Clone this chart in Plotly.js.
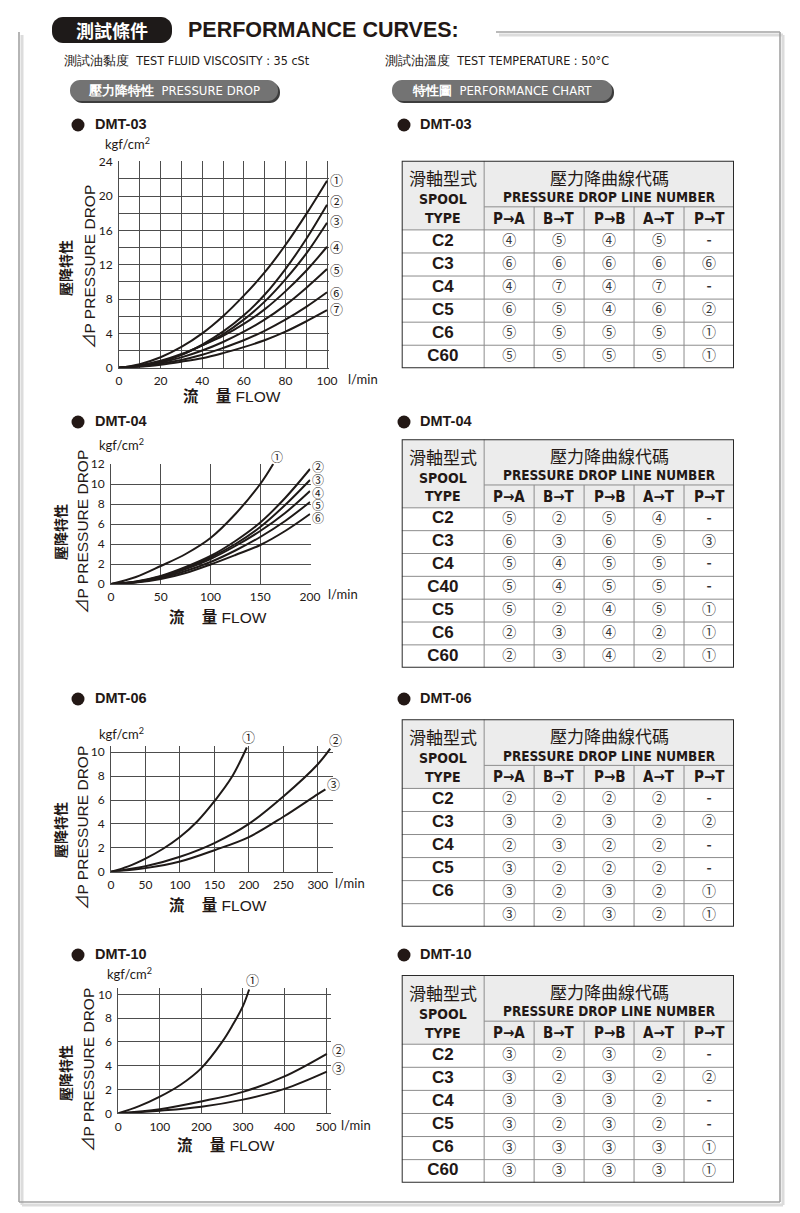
<!DOCTYPE html>
<html><head><meta charset="utf-8">
<script src="https://cdn.plot.ly/plotly-3.0.1.min.js"></script>
<style>html,body{margin:0;padding:0;background:#fff}#chart{width:800px;height:1213px}</style>
</head><body><div id="chart"></div>
<script>
// ---------------- DATA ----------------
// DMT-03 pressure drop curves (flow l/min, pressure kgf/cm2)
const dmt03Flows = [
  [0,10,20,30,40,50,60,70,80,90,100],
  [0,10,20,30,40,50,60,70,80,90,100],
  [0,10,20,30,40,50,60,70,80,90,100],
  [0,10,20,30,40,50,60,70,80,90,100],
  [0,10,20,30,40,50,60,70,80,90,100],
  [0,10,20,30,40,50,60,70,80,90,100],
  [0,10,20,30,40,50,60,70,80,90,100]
];
const dmt03Drops = [
  [0,0.42,1.22,2.42,4.0,6.0,8.4,11.1,14.3,17.9,21.8],
  [0,0.2,0.7,1.5,2.7,4.2,6.1,8.5,11.5,15.0,19.0],
  [0,0.2,0.7,1.5,2.6,3.9,5.6,7.7,10.3,13.3,16.9],
  [0,0.3,0.8,1.6,2.6,3.7,5.1,6.8,8.9,11.3,14.1],
  [0,0.2,0.6,1.2,2.0,3.0,4.2,5.6,7.3,9.3,11.5],
  [0,0.15,0.5,0.9,1.5,2.3,3.2,4.3,5.6,7.1,8.8],
  [0,0.1,0.35,0.7,1.1,1.7,2.4,3.2,4.2,5.4,6.7]
];
const dmt03Labels = [1,2,3,4,5,6,7];

// DMT-04
const dmt04Flows = [
  [0,25,50,75,100,125,150,163],
  [0,25,50,75,100,125,150,175,200],
  [0,25,50,75,100,125,150,175,200],
  [0,25,50,75,100,125,150,175,200],
  [0,25,50,75,100,125,150,175,200],
  [0,25,50,75,100,125,150,175,200]
];
const dmt04Drops = [
  [0,0.7,1.8,3.0,4.6,7.0,10.0,12.0],
  [0,0.25,0.8,1.7,2.8,4.3,6.15,8.6,11.5],
  [0,0.22,0.75,1.6,2.65,4.0,5.7,7.9,10.4],
  [0,0.2,0.7,1.5,2.5,3.8,5.3,7.1,9.3],
  [0,0.18,0.6,1.3,2.2,3.35,4.7,6.3,8.2],
  [0,0.15,0.5,1.1,1.95,2.9,3.9,5.3,7.0]
];
const dmt04Labels = [1,2,3,4,5,6];

// DMT-06
const dmt06Flows = [
  [0,25,50,75,100,125,150,175,197],
  [0,50,100,150,200,250,300,318],
  [0,50,100,150,200,250,300,311]
];
const dmt06Drops = [
  [0,0.45,1.1,1.9,2.9,4.2,5.9,7.9,10.4],
  [0,0.45,1.25,2.4,4.0,6.3,9.0,10.3],
  [0,0.3,0.85,1.8,2.9,4.6,6.5,6.9]
];
const dmt06Labels = [1,2,3];

// DMT-10
const dmt10Flows = [
  [0,50,100,150,200,250,275,300,315],
  [0,100,200,300,400,502],
  [0,100,200,300,400,502]
];
const dmt10Drops = [
  [0,0.6,1.4,2.4,3.8,6.0,7.4,9.0,10.4],
  [0,0.35,1.0,1.8,3.1,5.0],
  [0,0.22,0.55,1.15,2.05,3.5]
];
const dmt10Labels = [1,2,3];

// Performance tables
const portCols = ["P→A","B→T","P→B","A→T","P→T"];
const dmt03Spools = ["C2","C3","C4","C5","C6","C60"];
const dmt03Lines = [[4,5,4,5,0],[6,6,6,6,6],[4,7,4,7,0],[6,5,4,6,2],[5,5,5,5,1],[5,5,5,5,1]];
const dmt04Spools = ["C2","C3","C4","C40","C5","C6","C60"];
const dmt04Lines = [[5,2,5,4,0],[6,3,6,5,3],[5,4,5,5,0],[5,4,5,5,0],[5,2,4,5,1],[2,3,4,2,1],[2,3,4,2,1]];
const dmt06Spools = ["C2","C3","C4","C5","C6"," "];
const dmt06Lines = [[2,2,2,2,0],[3,2,3,2,2],[2,3,2,2,0],[3,2,2,2,0],[3,2,3,2,1],[3,2,3,2,1]];
const dmt10Spools = ["C2","C3","C4","C5","C6","C60"];
const dmt10Lines = [[3,2,3,2,0],[3,2,3,2,2],[3,3,3,2,0],[3,2,3,2,0],[3,3,3,3,1],[3,3,3,3,1]];

// ---------------- LAYOUT HELPERS ----------------
const W = 800, H = 1213;
const fx = v => v / W;
const fy = v => 1 - v / H;
const circ = ['-','①','②','③','④','⑤','⑥','⑦'];
const INK = '#231815';
const GRID = '#4d4d4d';
const SANS = 'Liberation Sans, Arial, Noto Sans CJK TC, sans-serif';
const CJK = 'Noto Sans CJK TC, Liberation Sans, sans-serif';
const NARROW = 'Liberation Sans Narrow, DejaVu Sans Condensed, Liberation Sans, sans-serif';
const TICKF = 'Lato, Liberation Sans, sans-serif';
const CIRCF = 'Noto Sans CJK TC, DejaVu Sans, sans-serif';

const charts = [
  {name:'DMT-03', flows:dmt03Flows, drops:dmt03Drops, labels:dmt03Labels, labelSize:13,
   xPx:[119,329.1], yPx:[161.4,367.7], xr:[0,101], yr:[0,24.05], xd:20, xm:10, yd:4, ym:2,
   shifts:[[9,1],[9,4],[9,2],[9,0],[9,0],[9,0],[9,2]],
   headY:124, kgf:[103,143], lmin:[363,379], yt1:[65,268], yt2:[90,267], xt:[232,396]},
  {name:'DMT-04', flows:dmt04Flows, drops:dmt04Drops, labels:dmt04Labels, labelSize:12,
   xPx:[111,310.5], yPx:[463.5,584], xr:[0,200.5], yr:[0,12.05], xd:50, xm:null, yd:2, ym:null,
   shifts:[[3.5,8],[8,2.5],[8,1],[8,-1],[8,-2],[8,-3]],
   headY:421, kgf:[97,444], lmin:[343,594], yt1:[60,532], yt2:[82,532], xt:[218,617]},
  {name:'DMT-06', flows:dmt06Flows, drops:dmt06Drops, labels:dmt06Labels, labelSize:13,
   xPx:[111,333], yPx:[746.3,871.7], xr:[0,322], yr:[0,10.5], xd:50, xm:null, yd:2, ym:null,
   shifts:[[2,11],[5,9],[8,6]],
   headY:698, kgf:[97,733], lmin:[350,883], yt1:[60,830], yt2:[82,828], xt:[218,905]},
  {name:'DMT-10', flows:dmt10Flows, drops:dmt10Drops, labels:dmt10Labels, labelSize:13,
   xPx:[118.3,331.4], yPx:[988.35,1113.3], xr:[0,513], yr:[0,10.5], xd:100, xm:null, yd:2, ym:null,
   shifts:[[3,10],[12,4],[12,4]],
   headY:954, kgf:[105,973], lmin:[356,1125], yt1:[65,1073], yt2:[88,1070], xt:[226,1145]}
];

const tables = [
  {name:'DMT-03', spools:dmt03Spools, lines:dmt03Lines, top:160.7, bottom:368.3, headY:124},
  {name:'DMT-04', spools:dmt04Spools, lines:dmt04Lines, top:439.3, bottom:667.7, headY:421},
  {name:'DMT-06', spools:dmt06Spools, lines:dmt06Lines, top:719.3, bottom:926.7, headY:698},
  {name:'DMT-10', spools:dmt10Spools, lines:dmt10Lines, top:975, bottom:1182.7, headY:954}
];
const tblX = [401.7, 734];
const colW = [1.65,1,1,1,1,1];
const colEdges = colW.reduce((a,w)=>{a.push(a[a.length-1]+w);return a;},[0]);
const colMid = colW.map((w,i)=>colEdges[i]+w/2);
const TW = colEdges[colEdges.length-1];

const data = [];
const layout = {
  width:W, height:H, margin:{l:0,r:0,t:0,b:0}, paper_bgcolor:'#fff', plot_bgcolor:'rgba(0,0,0,0)',
  showlegend:false, shapes:[], annotations:[], font:{family:SANS, color:INK}
};
const S = layout.shapes, A = layout.annotations;

function ann(x, y, text, o) {
  A.push(Object.assign({xref:'paper', yref:'paper', x:fx(x), y:fy(y), text:text, showarrow:false,
    xanchor:'center', yanchor:'middle', font:{family:SANS, size:12, color:INK}}, o||{}));
}
function roundRect(x0,y0,x1,y1,r,fill){
  const k = 0.5523*r;
  const p = [
    `M${fx(x0+r)},${fy(y0)}`, `L${fx(x1-r)},${fy(y0)}`,
    `C${fx(x1-r+k)},${fy(y0)} ${fx(x1)},${fy(y0+r-k)} ${fx(x1)},${fy(y0+r)}`,
    `L${fx(x1)},${fy(y1-r)}`,
    `C${fx(x1)},${fy(y1-r+k)} ${fx(x1-r+k)},${fy(y1)} ${fx(x1-r)},${fy(y1)}`,
    `L${fx(x0+r)},${fy(y1)}`,
    `C${fx(x0+r-k)},${fy(y1)} ${fx(x0)},${fy(y1-r+k)} ${fx(x0)},${fy(y1-r)}`,
    `L${fx(x0)},${fy(y0+r)}`,
    `C${fx(x0)},${fy(y0+r-k)} ${fx(x0+r-k)},${fy(y0)} ${fx(x0+r)},${fy(y0)}`, 'Z'
  ].join(' ');
  S.push({type:'path', xref:'paper', yref:'paper', path:p, fillcolor:fill, line:{width:0}, layer:'below'});
}
function pline(x0,y0,x1,y1,color,w){
  S.push({type:'line', xref:'paper', yref:'paper', x0:fx(x0), y0:fy(y0), x1:fx(x1), y1:fy(y1),
    line:{color:color, width:w}, layer:'below'});
}
function bullet(cx, cy){
  S.push({type:'circle', xref:'paper', yref:'paper', x0:fx(cx-6.5), x1:fx(cx+6.5), y0:fy(cy-6.5), y1:fy(cy+6.5),
    fillcolor:INK, line:{width:0}});
}

// ---------------- PAGE DECORATION ----------------
pline(499,35,783,35,'#dcdcdc',3); pline(783,35,783,1205,'#dcdcdc',3);
pline(22,1205,783,1205,'#dcdcdc',3); pline(22,35,22,1205,'#dcdcdc',3);
pline(496,32,780,32,'#a3a3a3',1.6); pline(780,32,780,1202,'#a3a3a3',1.6);
pline(19,1202,780,1202,'#a3a3a3',1.6); pline(19,32,19,1202,'#a3a3a3',1.6);
roundRect(52,17,172,43,11,'#1e1a19');
ann(112,30,'<b>測試條件</b>',{font:{family:CJK,size:18,color:'#fff'}});
ann(186,30,'<b>PERFORMANCE CURVES:</b>',{xanchor:'left',font:{family:SANS,size:21.5,color:INK}});
ann(62,61,'測試油黏度&#160;&#160;TEST FLUID VISCOSITY : 35 cSt',{xanchor:'left',font:{family:NARROW,size:12.5,color:INK}});
ann(383,61,'測試油溫度&#160;&#160;TEST TEMPERATURE : 50°C',{xanchor:'left',font:{family:NARROW,size:12.5,color:INK}});
roundRect(72,82,280,103,10,'#3d3d3d');
roundRect(70,80,278,101,10,'#737373');
ann(174,90.5,'<b>壓力降特性</b>&#160;&#160;PRESSURE DROP',{font:{family:NARROW,size:13,color:'#fff'}});
roundRect(394,82,614,103,10,'#3d3d3d');
roundRect(392,80,612,101,10,'#737373');
ann(502,90.5,'<b>特性圖</b>&#160;&#160;PERFORMANCE CHART',{font:{family:NARROW,size:13,color:'#fff'}});

// ---------------- PRESSURE DROP CHARTS ----------------
charts.forEach((c, ci) => {
  const n = ci + 1;
  const xa = 'xaxis' + (n===1?'':n), ya = 'yaxis' + (n===1?'':n);
  const xr = 'x' + (n===1?'':n), yr = 'y' + (n===1?'':n);
  const common = {showgrid:true, gridcolor:GRID, gridwidth:1, zeroline:false, showline:true,
    linecolor:GRID, linewidth:1, ticks:'', tickmode:'linear', tick0:0, fixedrange:true,
    tickfont:{family:TICKF, size:12, color:INK}};
  layout[xa] = Object.assign({}, common, {domain:[fx(c.xPx[0]), fx(c.xPx[1])], range:c.xr, dtick:c.xd, anchor:yr, ticklabelstandoff:2});
  layout[ya] = Object.assign({}, common, {domain:[fy(c.yPx[1]), fy(c.yPx[0])], range:c.yr, dtick:c.yd, anchor:xr, ticklabelstandoff:3});
  if (c.xm) layout[xa].minor = {dtick:c.xm, tick0:0, showgrid:true, gridcolor:GRID, gridwidth:1, ticks:''};
  if (c.ym) layout[ya].minor = {dtick:c.ym, tick0:0, showgrid:true, gridcolor:GRID, gridwidth:1, ticks:''};

  c.flows.forEach((f, k) => {
    data.push({type:'scatter', mode:'lines', x:f, y:c.drops[k], xaxis:xr, yaxis:yr,
      line:{color:'#1f1a18', width:2, shape:'spline', smoothing:1}, hoverinfo:'skip', cliponaxis:false});
    A.push({xref:xr, yref:yr, x:f[f.length-1], y:c.drops[k][c.drops[k].length-1], text:circ[c.labels[k]],
      showarrow:false, xanchor:'center', yanchor:'middle', xshift:c.shifts[k][0], yshift:c.shifts[k][1],
      font:{family:CIRCF, size:c.labelSize, color:INK}});
  });
  bullet(78, c.headY+1);
  ann(93, c.headY, '<b>'+c.name+'</b>', {xanchor:'left', font:{family:SANS, size:14.5, color:INK}});
  ann(c.kgf[0], c.kgf[1], 'kgf/cm<sup>2</sup>', {xanchor:'left', font:{family:TICKF, size:13, color:INK}});
  ann(c.lmin[0], c.lmin[1], 'l/min', {font:{family:TICKF, size:13, color:INK}});
  ann(c.yt1[0], c.yt1[1], '<b>壓降特性</b>', {textangle:-90, font:{family:CJK, size:14, color:INK}});
  ann(c.yt2[0], c.yt2[1], '⊿P PRESSURE DROP', {textangle:-90, font:{family:SANS, size:15.5, color:INK}});
  ann(c.xt[0], c.xt[1], '<b>流</b>&#160;&#160;&#160;&#160;<b>量</b> FLOW', {font:{family:SANS, size:15.5, color:INK}});
});

// ---------------- PERFORMANCE TABLES ----------------
tables.forEach((t, ti) => {
  const n = ti + 5;
  const xr = 'x'+n, yr = 'y'+n;
  const rows = t.spools.length, TH = 3 + rows;
  layout['xaxis'+n] = {domain:[fx(tblX[0]), fx(tblX[1])], range:[0,TW], visible:false, fixedrange:true, anchor:yr};
  layout['yaxis'+n] = {domain:[fy(t.bottom), fy(t.top)], range:[TH,0], visible:false, fixedrange:true, anchor:xr};
  const sh = (o) => S.push(Object.assign({xref:xr, yref:yr, layer:'below'}, o));
  sh({type:'rect', x0:0, x1:TW, y0:0, y1:3, fillcolor:'#ececec', line:{width:0}});
  sh({type:'rect', x0:0, x1:TW, y0:3, y1:TH, fillcolor:'#ffffff', line:{width:0}});
  const IN = {color:'#8c8c8c', width:1};
  sh({type:'line', x0:colEdges[1], x1:TW, y0:2, y1:2, line:IN});
  for (let r = 3; r < TH; r++) sh({type:'line', x0:0, x1:TW, y0:r, y1:r, line:IN});
  sh({type:'line', x0:colEdges[1], x1:colEdges[1], y0:0, y1:TH, line:IN});
  for (let j = 2; j < colEdges.length-1; j++) sh({type:'line', x0:colEdges[j], x1:colEdges[j], y0:2, y1:TH, line:IN});
  S.push({type:'rect', xref:xr, yref:yr, x0:0, x1:TW, y0:0, y1:TH, line:{color:'#2a2a2a', width:2}, fillcolor:'rgba(0,0,0,0)'});

  const ta = (x, y, text, font) => A.push({xref:xr, yref:yr, x:x, y:y, text:text, showarrow:false,
    xanchor:'center', yanchor:'middle', font:font});
  ta(colMid[0], 0.75, '滑軸型式', {family:CJK, size:17, color:INK});
  ta(colMid[0], 1.68, '<b>SPOOL</b>', {family:NARROW, size:14, color:INK});
  ta(colMid[0], 2.5, '<b>TYPE</b>', {family:NARROW, size:14, color:INK});
  ta((colEdges[1]+TW)/2, 0.72, '壓力降曲線代碼', {family:CJK, size:17, color:INK});
  ta((colEdges[1]+TW)/2, 1.58, '<b>PRESSURE DROP LINE NUMBER</b>', {family:NARROW, size:13.5, color:INK});
  portCols.forEach((p, j) => ta(colMid[j+1], 2.52, '<b>'+p+'</b>', {family:NARROW, size:15, color:INK}));

  const spoolIdx = t.spools.map((s,i)=>i).filter(i=>t.spools[i].trim()!=='');
  data.push({type:'scatter', mode:'text', xaxis:xr, yaxis:yr,
    x:spoolIdx.map(()=>colMid[0]), y:spoolIdx.map(i=>3.5+i),
    text:spoolIdx.map(i=>'<b>'+t.spools[i]+'</b>'), textposition:'middle center',
    textfont:{family:SANS, size:17, color:INK}, hoverinfo:'skip', cliponaxis:false});
  const xs=[], ys=[], tx=[], sz=[];
  t.lines.forEach((row, i) => row.forEach((v, j) => {
    xs.push(colMid[j+1]); ys.push(3.5+i); tx.push(v===0 ? '<b>-</b>' : circ[v]); sz.push(v===0 ? 14 : 14);
  }));
  data.push({type:'scatter', mode:'text', xaxis:xr, yaxis:yr, x:xs, y:ys, text:tx,
    textposition:'middle center', textfont:{family:CIRCF, size:sz, color:'#333'},
    hoverinfo:'skip', cliponaxis:false});

  bullet(404, t.headY+1);
  ann(418, t.headY, '<b>'+t.name+'</b>', {xanchor:'left', font:{family:SANS, size:14.5, color:INK}});
});

Plotly.newPlot('chart', data, layout, {displayModeBar:false, staticPlot:true});
</script></body></html>
